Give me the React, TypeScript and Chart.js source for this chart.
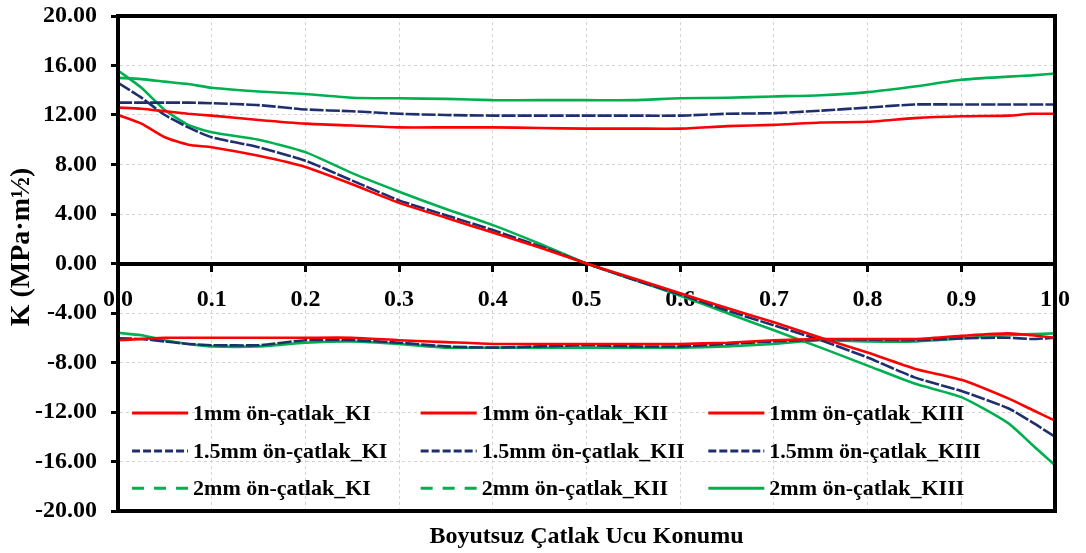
import React, { useEffect, useRef } from "react";
import { Chart, registerables } from "chart.js";

Chart.register(...registerables);

// ---- data ----
const positions = [0, 0.025, 0.05, 0.075, 0.1, 0.15, 0.2, 0.25, 0.3, 0.35, 0.4, 0.45, 0.5, 0.55, 0.6, 0.65, 0.7, 0.75, 0.8, 0.85, 0.9, 0.95, 0.975, 1.0];

const ki1mm = [12.6, 12.5, 12.3, 12.1, 11.95, 11.6, 11.3, 11.15, 11.0, 11.0, 11.0, 10.95, 10.9, 10.9, 10.9, 11.1, 11.2, 11.4, 11.45, 11.75, 11.9, 11.95, 12.1, 12.1];
const ki15mm = [13.0, 13.0, 13.0, 13.0, 12.95, 12.8, 12.45, 12.3, 12.1, 12.0, 11.95, 11.95, 11.95, 11.95, 11.95, 12.1, 12.15, 12.35, 12.6, 12.85, 12.85, 12.85, 12.85, 12.85];
const ki2mm = [15.0, 14.9, 14.7, 14.5, 14.2, 13.9, 13.7, 13.4, 13.35, 13.3, 13.2, 13.2, 13.2, 13.2, 13.35, 13.4, 13.5, 13.6, 13.85, 14.3, 14.85, 15.1, 15.2, 15.35];

const kii1mm = [12.0, 11.3, 10.2, 9.6, 9.4, 8.7, 7.8, 6.4, 4.9, 3.7, 2.5, 1.3, 0.0, -1.2, -2.4, -3.6, -4.75, -6.0, -7.2, -8.5, -9.4, -10.9, -11.8, -12.7];
const kii15mm = [14.6, 13.4, 12.0, 11.0, 10.2, 9.4, 8.3, 6.7, 5.1, 3.9, 2.7, 1.4, 0.0, -1.3, -2.5, -3.8, -5.0, -6.2, -7.6, -9.2, -10.3, -11.7, -12.8, -14.0];
const kii2mm = [15.6, 14.2, 12.4, 11.2, 10.6, 10.0, 9.0, 7.3, 5.8, 4.4, 3.1, 1.6, 0.0, -1.3, -2.6, -4.0, -5.4, -6.8, -8.25, -9.7, -10.8, -12.9, -14.6, -16.3];

const kiii1mm = [-6.2, -6.1, -6.0, -6.0, -6.0, -6.0, -6.0, -6.0, -6.2, -6.35, -6.5, -6.5, -6.5, -6.5, -6.5, -6.4, -6.2, -6.1, -6.1, -6.1, -5.85, -5.65, -5.8, -6.0];
const kiii15mm = [-6.05, -6.1, -6.3, -6.5, -6.6, -6.6, -6.2, -6.2, -6.4, -6.7, -6.8, -6.7, -6.6, -6.7, -6.7, -6.5, -6.3, -6.15, -6.15, -6.2, -6.05, -6.0, -6.1, -6.0];
const kiii2mm = [-5.6, -5.8, -6.2, -6.5, -6.7, -6.7, -6.4, -6.3, -6.5, -6.8, -6.8, -6.8, -6.8, -6.8, -6.8, -6.7, -6.5, -6.2, -6.3, -6.3, -6.05, -5.8, -5.7, -5.65];

const seriesLabels = [
  "1mm ön-çatlak_KI", "1mm ön-çatlak_KII", "1mm ön-çatlak_KIII",
  "1.5mm ön-çatlak_KI", "1.5mm ön-çatlak_KII", "1.5mm ön-çatlak_KIII",
  "2mm ön-çatlak_KI", "2mm ön-çatlak_KII", "2mm ön-çatlak_KIII",
];
const seriesValues = [ki1mm, kii1mm, kiii1mm, ki15mm, kii15mm, kiii15mm, ki2mm, kii2mm, kiii2mm];

const xTitle = "Boyutsuz Çatlak Ucu Konumu";
const yTitle = "K (MPa·m½)";

// ---- styles ----
const RED = "#ff0000";
const NAVY = "#1f2f6e";
const GREEN = "#00b050";
const seriesColors = [RED, RED, RED, NAVY, NAVY, NAVY, GREEN, GREEN, GREEN];
const plotDashes: number[][] = [[], [], [], [14, 2], [14, 2], [14, 2], [], [], []];
const legendDashes: number[][] = [[], [], [], [8, 3], [8, 3], [8, 3], [12, 10], [12, 10], []];
const FONT = "'Liberation Serif', 'Times New Roman', serif";

const overlayPlugin = {
  id: "overlay",
  afterDatasetsDraw(chart: any) {
    const { ctx, chartArea: a } = chart;
    ctx.save();
    ctx.strokeStyle = "#000";
    ctx.lineWidth = 4;
    ctx.strokeRect(a.left, a.top, a.right - a.left, a.bottom - a.top);
    ctx.restore();
  },
  afterDraw(chart: any) {
    const { ctx, chartArea: a } = chart;
    const w = a.right - a.left;
    const h = a.bottom - a.top;
    ctx.save();
    // legend inside plot area
    const colFr = [0.015, 0.323, 0.63];
    const rowFr = [0.802, 0.879, 0.954];
    const sampleLen = 56;
    ctx.font = `bold 22px ${FONT}`;
    ctx.textBaseline = "middle";
    ctx.textAlign = "left";
    chart.data.datasets.forEach((ds: any, i: number) => {
      const row = Math.floor(i / 3);
      const col = i % 3;
      const x = a.left + colFr[col] * w;
      const y = a.top + rowFr[row] * h;
      ctx.beginPath();
      ctx.setLineDash(legendDashes[i]);
      ctx.strokeStyle = ds.borderColor;
      ctx.lineWidth = 3;
      ctx.moveTo(x, y);
      ctx.lineTo(x + sampleLen, y);
      ctx.stroke();
      ctx.setLineDash([]);
      ctx.fillStyle = "#000";
      ctx.fillText(ds.label, x + sampleLen + 5, y + 1);
    });
    // axis titles
    ctx.font = `bold 24px ${FONT}`;
    ctx.textAlign = "center";
    ctx.textBaseline = "middle";
    ctx.fillText(xTitle, a.left + w / 2, 537);
    ctx.font = `bold 28px ${FONT}`;
    ctx.translate(22, 247);
    ctx.rotate(-Math.PI / 2);
    ctx.fillText(yTitle, 0, 0);
    ctx.restore();
  },
};

export default function App() {
  const canvasRef = useRef<HTMLCanvasElement | null>(null);

  useEffect(() => {
    if (!canvasRef.current) return;
    const datasets = seriesValues.map((vals, i) => ({
      label: seriesLabels[i],
      data: vals.map((v, j) => ({ x: positions[j], y: v })),
      borderColor: seriesColors[i],
      backgroundColor: seriesColors[i],
      borderWidth: 2.6,
      borderDash: plotDashes[i],
      pointRadius: 0,
      fill: false,
      tension: 0.2,
    }));
    const chart = new Chart(canvasRef.current, {
      type: "line",
      data: { datasets },
      options: {
        responsive: false,
        animation: false,
        devicePixelRatio: 1,
        layout: { padding: { top: 16, left: 0, right: 25, bottom: 42 } },
        plugins: {
          legend: { display: false },
          tooltip: { enabled: false },
          title: { display: false },
        },
        scales: {
          x: {
            type: "linear",
            position: { y: 0 } as any,
            min: 0,
            max: 1,
            ticks: {
              stepSize: 0.1,
              autoSkip: false,
              maxRotation: 0,
              padding: 16,
              color: "#000",
              font: { family: FONT, size: 24, weight: "bold" },
              callback: (v: any) => Number(v).toFixed(1),
            },
            grid: {
              color: "#d4d4d4",
              lineWidth: 1,
              drawTicks: true,
              tickLength: 6,
              tickColor: "#000",
              tickWidth: 3,
            },
            border: { display: true, color: "#000", width: 4, dash: [3, 3] },
          },
          y: {
            type: "linear",
            position: "left",
            min: -20,
            max: 20,
            afterFit: (scale: any) => {
              scale.width = 118;
              scale.paddingTop = 0;
              scale.paddingBottom = 0;
            },
            ticks: {
              stepSize: 4,
              padding: 14,
              color: "#000",
              font: { family: FONT, size: 24, weight: "bold" },
              callback: (v: any) => Number(v).toFixed(2),
            },
            grid: {
              color: "#d4d4d4",
              lineWidth: 1,
              drawTicks: true,
              tickLength: 7,
              tickColor: "#000",
              tickWidth: 3,
            },
            border: { display: true, color: "#000", width: 4, dash: [3, 3] },
          },
        },
      },
      plugins: [overlayPlugin],
    });
    return () => chart.destroy();
  }, []);

  return (
    <div style={{ position: "absolute", left: 0, top: 0, width: 1086, height: 553, background: "#fff" }}>
      <canvas ref={canvasRef} width={1086} height={553} style={{ display: "block" }} />
    </div>
  );
}
